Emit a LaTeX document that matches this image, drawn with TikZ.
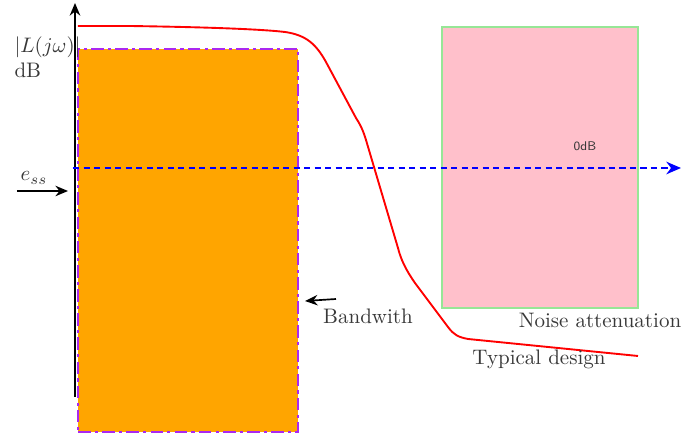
\documentclass[tikz,border=0pt]{standalone}
\usetikzlibrary{arrows.meta}
\definecolor{bandorange}{RGB}{255,165,0}
\definecolor{noisepink}{RGB}{255,192,203}
\definecolor{bandpurple}{RGB}{170,40,240}
\definecolor{noisegreen}{RGB}{150,230,150}
\begin{document}
\begin{tikzpicture}[x=0.476pt,y=-0.476pt,
  lbl/.style={text=black!78, inner sep=1pt},
  band/.style={fill=bandorange, draw=bandpurple, line width=1pt, dash pattern=on 6pt off 2pt on 1.5pt off 2pt},
  noise/.style={fill=noisepink, draw=noisegreen, line width=0.9pt},
  axisline/.style={-{Stealth[length=6pt,width=5pt]}, line width=0.9pt},
  zeroline/.style={blue, line width=0.9pt, dash pattern=on 3pt off 2pt, -{Stealth[length=7pt,width=6pt]}},
  pointer/.style={-{Stealth[length=6pt,width=5pt]}, line width=0.8pt}]
\useasboundingbox (0,0) rectangle (698,434);
% regions
\node[band, minimum width=220*0.476pt, minimum height=383*0.476pt, anchor=north west, inner sep=0] (bw) at (77,48) {};
\node[noise, minimum width=196*0.476pt, minimum height=281*0.476pt, anchor=north west, inner sep=0] (na) at (441,26) {};
% axis
\coordinate (a0) at (75,397);
\coordinate (a1) at (75,3);
\draw[axisline] (a0) -- (a1);
% 0 dB line
\coordinate (z0) at (73,168);
\coordinate (z1) at (681,168);
\draw[zeroline] (z0) -- (z1);
% typical design curve
\draw[red, line width=0.9pt, line join=round]
 (78,26) -- (130,26) .. controls (200,27) and (260,29) .. (285,32)
 .. controls (306,35) and (316,44) .. (326,62)
 -- (356,118) .. controls (360,124) and (363,130) .. (366,140)
 -- (398,248) .. controls (401,260) and (406,270) .. (415,283)
 -- (448,327) .. controls (454,335) and (458,337) .. (468,339)
 -- (638,356);
% labels
\node[lbl, align=left, anchor=north west] (yl) at (12,34) {$|L(j\omega)|$\\dB};
\node[lbl] (ess) at (34,178) {$e_{ss}$};
\coordinate (e0) at (17,191);
\coordinate (e1) at (68,191);
\draw[pointer] (e0) -- (e1);
\node[lbl] (bwl) at (368,316) {Bandwith};
\coordinate (b0) at (336,299);
\coordinate (b1) at (305,301);
\draw[pointer] (b0) -- (b1);
\node[lbl, font=\sffamily\fontsize{6}{7}\selectfont] (zdb) at (585,146) {0dB};
\node[lbl] (nal) at (600,320) {Noise attenuation};
\node[lbl] (tdl) at (539,359) {Typical design};
\end{tikzpicture}
\end{document}
